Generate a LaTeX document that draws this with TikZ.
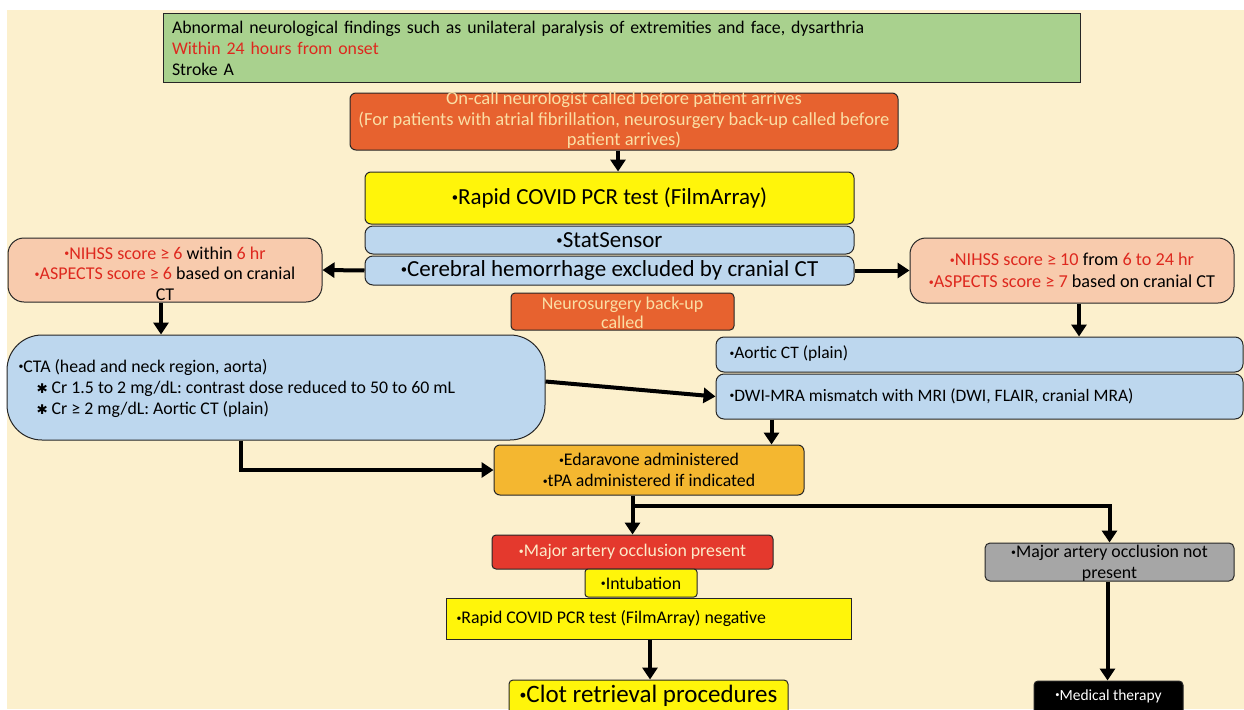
\documentclass[tikz,border=0pt]{standalone}
\usepackage{fontspec}
\setmainfont{Carlito}
\newfontfamily\symfont{DejaVu Sans}
\usetikzlibrary{arrows.meta}
\definecolor{cream}{RGB}{252,240,205}
\definecolor{bxgreen}{RGB}{169,209,142}
\definecolor{bxorange}{RGB}{231,98,47}
\definecolor{txtlight}{RGB}{250,222,165}
\definecolor{bxyellow}{RGB}{255,245,10}
\definecolor{bxblue}{RGB}{189,215,238}
\definecolor{bxpink}{RGB}{248,203,173}
\definecolor{bxgold}{RGB}{244,183,48}
\definecolor{bxred}{RGB}{228,57,45}
\definecolor{bxgrey}{RGB}{166,166,166}
\definecolor{txtred}{RGB}{222,40,30}
\newcommand\bl{\raisebox{.3ex}{\scalebox{.55}{•}}}
\newcommand\crstar{{\symfont\scalebox{.75}{✱}}}
\newcommand\rd[1]{\textcolor{txtred}{#1}}
\begin{document}
\begin{tikzpicture}[x=1pt, y=-1pt, font=\fontsize{17.8}{21}\selectfont,
  box/.style={draw=black!85, line width=1pt, inner sep=0pt},
  big/.style={font=\fontsize{23}{26}\selectfont},
  arr/.style={line width=4pt, -{Triangle[width=15pt,length=12pt]}},
  ]
\useasboundingbox (0,0) rectangle (1244,709);
\fill[white] (0,0) rectangle (1244,709);
\fill[cream] (7,10) rectangle (1244,709);
\node[box, fill=bxgreen, minimum width=917pt, minimum height=68pt, text width=899pt, align=left] (onset) at (621.5,48)
  {Abnormal neurological findings such as unilateral paralysis of extremities and face, dysarthria\\
   \rd{Within 24 hours from onset}\\
   Stroke A};
\node[box, fill=bxorange, rounded corners=6pt, minimum width=548pt, minimum height=57pt] (oncall) at (624,121.5) {};
\node[text=txtlight, align=center, font=\fontsize{18.5}{20.5}\selectfont] at (624,120.5)
  {On-call neurologist called before patient arrives\\
   (For patients with atrial fibrillation, neurosurgery back-up called before\\
   patient arrives)};
\node[box, fill=bxyellow, rounded corners=6pt, minimum width=489pt, minimum height=52pt, big] (covid) at (609.5,198) {\bl Rapid COVID PCR test (FilmArray)};
\node[box, fill=bxblue, rounded corners=8pt, minimum width=489pt, minimum height=28pt, big] (stat) at (609.5,240) {\bl StatSensor};
\node[box, fill=bxblue, rounded corners=8pt, minimum width=489pt, minimum height=29pt, big] (cereb) at (609.5,270.5) {\bl Cerebral hemorrhage excluded by cranial CT};
\node[box, fill=bxpink, rounded corners=16pt, minimum width=314pt, minimum height=64pt] (early) at (165,270) {};
\node[align=center, font=\fontsize{18}{20.5}\selectfont] at (165,273.5)
  {\rd{\bl NIHSS score ≥ 6} within \rd{6 hr}\\
   \rd{\bl ASPECTS score ≥ 6} based on cranial\\
   CT};
\node[box, fill=bxpink, rounded corners=16pt, minimum width=324pt, minimum height=65pt, align=center, font=\fontsize{18.2}{22}\selectfont] (late) at (1072,270.5)
  {\rd{\bl NIHSS score ≥ 10} from \rd{6 to 24 hr}\\
   \rd{\bl ASPECTS score ≥ 7} based on cranial CT};
\node[box, fill=bxorange, rounded corners=4pt, minimum width=223pt, minimum height=37pt] (backup) at (622.5,311.5) {};
\node[text=txtlight, align=center, font=\fontsize{18}{19}\selectfont] at (622.5,312.5) {Neurosurgery back-up\\called};
\node[box, fill=bxblue, rounded corners=35pt, minimum width=538pt, minimum height=105pt] (cta) at (276,387.5) {};
\node[anchor=west, align=left] at (15,388.5)
  {\bl CTA (head and neck region, aorta)\\
   \hspace{18pt}\crstar\ Cr 1.5 to 2 mg/dL: contrast dose reduced to 50 to 60 mL\\
   \hspace{18pt}\crstar\ Cr ≥ 2 mg/dL: Aortic CT (plain)};
\node[box, fill=bxblue, rounded corners=8pt, minimum width=527pt, minimum height=35pt] (aortic) at (979.5,354.5) {};
\node[anchor=west, font=\fontsize{17.5}{21}\selectfont] at (726,354) {\bl Aortic CT (plain)};
\node[box, fill=bxblue, rounded corners=8pt, minimum width=527pt, minimum height=45pt] (dwi) at (979.5,396.5) {};
\node[anchor=west, font=\fontsize{17.5}{21}\selectfont] at (726,396) {\bl DWI-MRA mismatch with MRI (DWI, FLAIR, cranial MRA)};
\node[box, fill=bxgold, rounded corners=6pt, minimum width=310pt, minimum height=50pt, align=center] (edara) at (649,470)
  {\bl Edaravone administered\\\bl tPA administered if indicated};
\node[box, fill=bxred, rounded corners=4pt, minimum width=281pt, minimum height=34pt, text=txtlight!60!white] (major) at (632.5,552) {\bl Major artery occlusion present};
\node[box, fill=bxyellow, rounded corners=3pt, minimum width=112pt, minimum height=28pt] (intub) at (641,583) {\bl Intubation};
\node[box, fill=bxyellow, minimum width=405pt, minimum height=41pt] (negative) at (648.5,618.5) {};
\node[anchor=west] at (453,619) {\bl Rapid COVID PCR test (FilmArray) negative};
\node[box, fill=bxyellow, rounded corners=4pt, minimum width=279pt, minimum height=38pt] (clot) at (648.5,699) {};
\node[font=\fontsize{25}{28}\selectfont] at (648.5,696) {\bl Clot retrieval procedures};
\node[box, fill=bxgrey, rounded corners=5pt, minimum width=249pt, minimum height=38pt] (notpresent) at (1109.5,562) {};
\node[align=center] at (1109.5,563.5) {\bl Major artery occlusion not\\present};
\node[box, fill=black, rounded corners=4pt, minimum width=149pt, minimum height=37pt] (medical) at (1108.5,699.5) {};
\node[text=white, font=\fontsize{15.5}{18}\selectfont] at (1108.5,696) {\bl Medical therapy};
\draw[arr] ([xshift=-6pt]oncall.south) -- ([xshift=-6pt]oncall.south |- covid.north);
\draw[arr] (cereb.west) -- (early.east);
\draw[arr] (cereb.east) -- (late.west);
\draw[arr] ([xshift=-4pt]early.south) -- ([xshift=-4pt]early.south |- cta.north);
\draw[arr] ([xshift=7pt]late.south) -- ([xshift=7pt]late.south |- aortic.north);
\draw[arr] ([yshift=6pt]cta.east) -- (dwi.west);
\draw[arr] ([xshift=-33pt]edara.north east |- dwi.south) -- ([xshift=-33pt]edara.north east);
\draw[arr] ([xshift=-35pt]cta.south) |- (edara.west);
\draw[arr] (major.north |- edara.south) -- (major.north);
\draw[arr] ([yshift=-10pt]major.north |- edara.south) -| (notpresent.north);
\draw[arr] ([xshift=1.5pt]clot.north |- negative.south) -- ([xshift=1.5pt]clot.north);
\draw[arr] ([xshift=-2pt]notpresent.south) -- ([xshift=-2pt]notpresent.south |- medical.north);
\end{tikzpicture}
\end{document}
